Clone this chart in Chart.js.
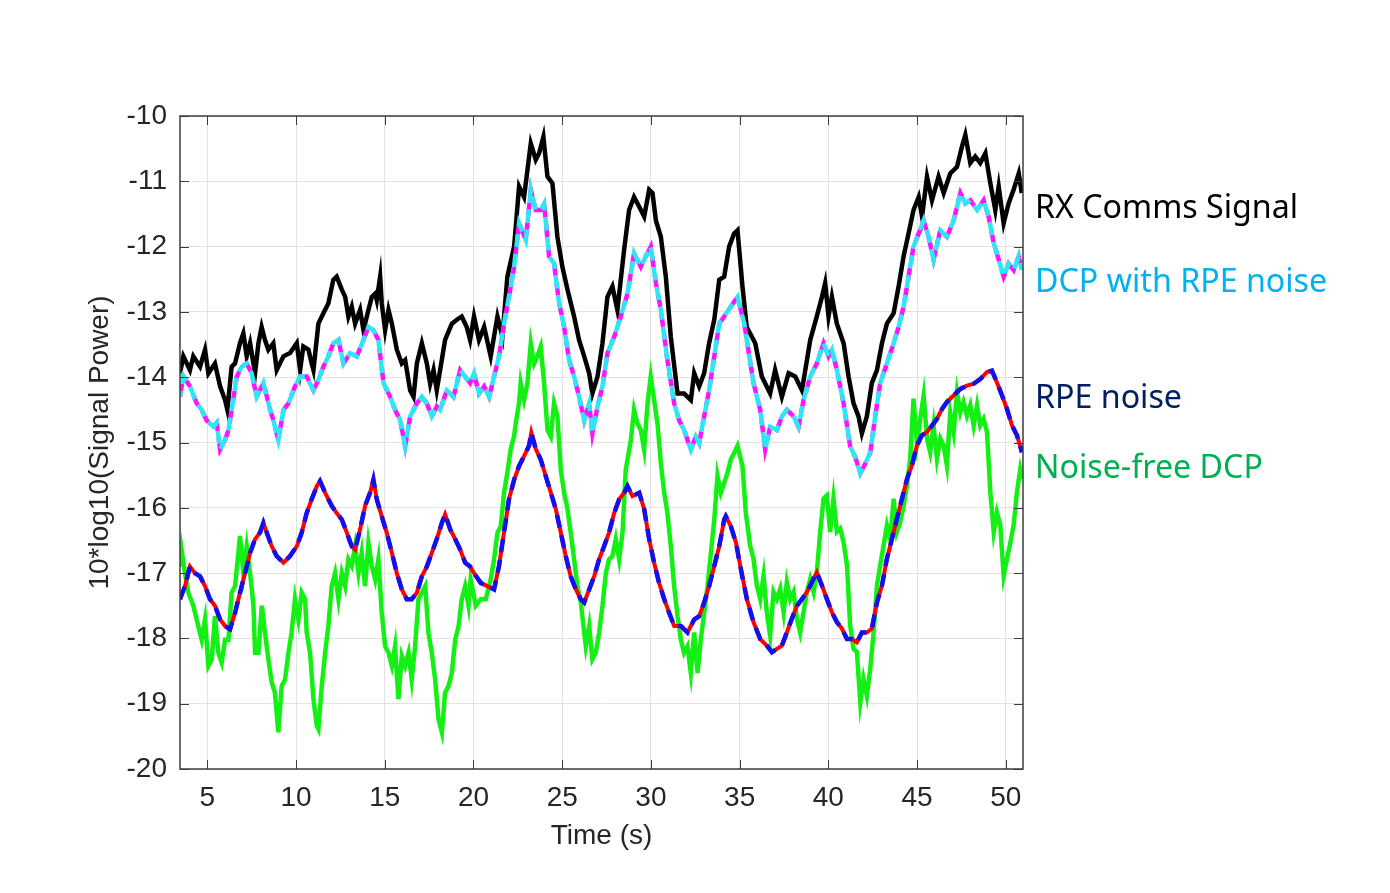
<!DOCTYPE html>
<html>
<head>
<meta charset="utf-8">
<script src="https://cdn.jsdelivr.net/npm/chart.js@4.4.1/dist/chart.umd.min.js"></script>
<style>
  html, body { margin: 0; padding: 0; background: #fff; }
  canvas { display: block; }
</style>
</head>
<body>
<canvas id="powerChart" width="1390" height="893"></canvas>
<script>
/* =========================
   DATA
========================= */
const rxTime = [3.46,3.65,4.02,4.21,4.59,4.87,5.06,5.43,5.72,6.0,6.13,6.37,6.56,6.84,7.03,7.22,7.41,7.69,7.88,8.06,8.25,8.44,8.72,8.91,9.29,9.66,10.04,10.23,10.41,10.70,10.88,10.98,11.26,11.54,11.82,12.1,12.29,12.58,12.77,12.95,13.14,13.33,13.61,13.8,14.08,14.27,14.46,14.55,14.74,14.83,15.02,15.21,15.40,15.68,15.96,16.15,16.43,16.62,16.81,17.09,17.37,17.56,17.75,17.93,18.12,18.40,18.78,19.06,19.34,19.62,19.81,20.03,20.31,20.6,20.97,21.35,21.63,21.91,22.29,22.57,22.85,23.23,23.51,23.70,23.94,24.17,24.45,24.73,25.01,25.3,25.67,25.95,26.24,26.52,26.7,26.99,27.27,27.55,27.83,28.11,28.49,28.77,29.05,29.34,29.62,29.9,30.09,30.28,30.56,30.84,31.12,31.5,31.87,32.25,32.44,32.72,33.0,33.28,33.57,33.85,34.13,34.41,34.69,34.88,35.16,35.4,35.88,36.25,36.72,37.0,37.38,37.76,38.13,38.51,38.7,38.98,39.35,39.64,39.82,40.01,40.2,40.48,40.86,41.14,41.42,41.7,41.89,42.17,42.45,42.74,43.02,43.3,43.68,43.96,44.24,44.52,44.8,45.09,45.28,45.56,45.84,46.21,46.5,46.87,47.25,47.53,47.72,48.0,48.28,48.56,48.85,49.13,49.41,49.6,49.88,50.16,50.44,50.73,50.9];
const rxPower = [-13.94,-13.68,-13.89,-13.68,-13.84,-13.58,-13.94,-13.79,-14.14,-14.35,-14.5,-13.84,-13.79,-13.48,-13.33,-13.68,-13.48,-13.94,-13.48,-13.23,-13.43,-13.58,-13.48,-13.89,-13.68,-13.63,-13.48,-13.89,-13.53,-13.58,-13.79,-13.89,-13.18,-13.02,-12.87,-12.51,-12.46,-12.66,-12.77,-13.07,-12.92,-13.18,-12.97,-13.28,-12.97,-12.77,-12.72,-12.82,-12.46,-12.87,-13.28,-12.97,-13.18,-13.58,-13.79,-13.74,-14.2,-14.3,-13.79,-13.48,-13.79,-14.1,-13.89,-14.2,-13.89,-13.43,-13.18,-13.12,-13.07,-13.23,-13.43,-13.07,-13.43,-13.23,-13.68,-13.07,-13.38,-12.46,-12.0,-11.08,-11.24,-10.42,-10.67,-10.57,-10.32,-10.93,-11.03,-11.85,-12.31,-12.66,-13.07,-13.43,-13.68,-13.94,-14.25,-13.99,-13.48,-12.77,-12.61,-12.97,-12.05,-11.44,-11.24,-11.39,-11.54,-11.13,-11.18,-11.6,-11.85,-12.46,-13.38,-14.25,-14.25,-14.35,-13.94,-14.14,-13.94,-13.48,-13.12,-12.51,-12.46,-12.0,-11.8,-11.75,-12.61,-13.23,-13.48,-13.99,-14.25,-13.89,-14.3,-13.94,-13.99,-14.2,-13.89,-13.43,-13.07,-12.77,-12.56,-13.07,-12.77,-13.18,-13.48,-13.99,-14.4,-14.6,-14.86,-14.6,-14.09,-13.89,-13.48,-13.18,-13.02,-12.61,-12.15,-11.8,-11.44,-11.24,-11.54,-10.93,-11.29,-10.93,-11.18,-10.88,-10.78,-10.47,-10.29,-10.72,-10.62,-10.72,-10.57,-11.03,-11.44,-11.08,-11.64,-11.34,-11.13,-10.88,-11.18];

const dcpTime = [3.46,3.65,4.02,4.4,4.68,4.96,5.34,5.53,5.72,6.0,6.19,6.37,6.66,6.94,7.22,7.5,7.78,8.16,8.54,8.72,9.0,9.29,9.57,9.94,10.23,10.6,10.98,11.26,11.54,11.82,12.1,12.39,12.67,13.05,13.42,13.8,14.08,14.36,14.64,14.93,15.3,15.58,15.87,16.15,16.43,16.81,17.09,17.37,17.65,17.93,18.12,18.5,18.87,19.25,19.53,19.81,20.03,20.31,20.6,20.88,21.16,21.44,21.72,22.0,22.29,22.57,22.95,23.23,23.51,23.79,23.98,24.26,24.54,24.83,25.11,25.39,25.67,25.95,26.24,26.52,26.7,26.99,27.27,27.55,27.93,28.3,28.68,29.05,29.43,29.71,29.99,30.28,30.56,30.93,31.31,31.59,31.87,32.25,32.53,32.72,33.0,33.28,33.57,33.85,34.13,34.5,34.88,35.26,35.5,35.78,36.16,36.44,36.72,37.1,37.38,37.66,38.04,38.32,38.6,38.98,39.35,39.73,40.01,40.2,40.48,40.86,41.23,41.51,41.8,42.08,42.36,42.64,42.92,43.3,43.68,43.96,44.24,44.52,44.8,45.09,45.37,45.65,45.93,46.31,46.68,47.06,47.44,47.72,48.0,48.38,48.75,49.03,49.32,49.6,49.88,50.16,50.44,50.73,50.9];
const dcpPower = [-14.3,-13.99,-14.14,-14.4,-14.5,-14.66,-14.76,-14.7,-15.11,-14.96,-14.81,-14.5,-13.99,-13.84,-13.79,-13.94,-14.3,-14.09,-14.5,-14.66,-14.96,-14.5,-14.4,-14.14,-13.99,-13.99,-14.2,-14.04,-13.84,-13.68,-13.48,-13.43,-13.79,-13.63,-13.68,-13.43,-13.23,-13.28,-13.43,-14.09,-14.3,-14.5,-14.66,-15.06,-14.6,-14.4,-14.3,-14.4,-14.6,-14.45,-14.5,-14.2,-14.3,-13.89,-13.99,-14.09,-13.94,-14.25,-14.14,-14.3,-13.99,-13.68,-13.18,-12.77,-12.31,-11.64,-11.9,-11.13,-11.44,-11.44,-11.34,-12.15,-12.26,-12.87,-13.23,-13.74,-13.99,-14.3,-14.66,-14.4,-14.86,-14.45,-14.14,-13.63,-13.38,-13.07,-12.72,-12.1,-12.31,-12.15,-12.0,-12.56,-12.97,-13.74,-14.4,-14.66,-14.81,-15.11,-14.91,-15.01,-14.6,-14.2,-13.68,-13.18,-13.07,-12.92,-12.77,-13.18,-13.6,-14.09,-14.5,-15.11,-14.76,-14.81,-14.6,-14.5,-14.6,-14.76,-14.35,-13.99,-13.79,-13.48,-13.68,-13.58,-13.89,-14.4,-15.06,-15.22,-15.47,-15.32,-15.16,-14.6,-14.09,-13.79,-13.48,-13.23,-12.92,-12.46,-12.0,-11.8,-11.6,-11.85,-12.2,-11.75,-11.85,-11.6,-11.18,-11.34,-11.29,-11.44,-11.29,-11.54,-11.95,-12.2,-12.46,-12.26,-12.36,-12.15,-12.36];

const rpeTime = [3.46,3.74,4.02,4.3,4.59,4.87,5.15,5.43,5.72,6.0,6.28,6.56,6.84,7.13,7.41,7.69,7.97,8.16,8.35,8.63,8.91,9.29,9.66,10.04,10.32,10.6,10.88,11.17,11.35,11.64,12.01,12.29,12.58,12.86,13.14,13.33,13.61,13.89,14.17,14.36,14.55,14.83,15.11,15.4,15.68,15.96,16.24,16.52,16.81,17.09,17.37,17.65,17.93,18.22,18.4,18.69,18.97,19.25,19.53,19.81,20.03,20.41,20.78,21.16,21.44,21.72,22.0,22.29,22.57,22.85,23.13,23.26,23.51,23.79,24.07,24.36,24.64,24.92,25.2,25.48,25.77,26.05,26.24,26.52,26.8,27.08,27.36,27.64,27.93,28.21,28.49,28.68,28.96,29.34,29.62,29.9,30.18,30.46,30.75,31.03,31.31,31.69,32.06,32.44,32.72,33.0,33.28,33.57,33.85,34.13,34.22,34.5,34.79,35.07,35.41,35.78,36.16,36.53,36.82,37.1,37.38,37.66,37.94,38.23,38.51,38.79,39.07,39.35,39.64,39.92,40.2,40.48,40.76,41.05,41.33,41.61,41.89,42.17,42.45,42.74,43.02,43.3,43.58,43.86,44.15,44.43,44.71,44.99,45.27,45.56,45.84,46.12,46.4,46.68,47.06,47.44,47.81,48.19,48.56,48.94,49.22,49.5,49.79,50.07,50.35,50.63,50.91];
const rpePower = [-17.4,-17.2,-16.9,-17.0,-17.05,-17.2,-17.4,-17.5,-17.71,-17.81,-17.86,-17.61,-17.3,-17.0,-16.69,-16.48,-16.38,-16.23,-16.38,-16.59,-16.74,-16.84,-16.74,-16.59,-16.38,-16.08,-15.87,-15.67,-15.59,-15.77,-15.97,-16.08,-16.18,-16.38,-16.59,-16.64,-16.33,-15.97,-15.77,-15.57,-15.87,-16.13,-16.38,-16.69,-17.0,-17.25,-17.4,-17.4,-17.3,-17.05,-16.9,-16.69,-16.48,-16.23,-16.1,-16.33,-16.48,-16.64,-16.84,-16.9,-17.0,-17.15,-17.2,-17.25,-16.89,-16.38,-15.87,-15.57,-15.36,-15.21,-15.05,-14.85,-15.1,-15.26,-15.51,-15.77,-16.02,-16.38,-16.74,-17.05,-17.25,-17.4,-17.45,-17.25,-17.05,-16.79,-16.59,-16.38,-16.08,-15.87,-15.77,-15.67,-15.82,-15.77,-16.02,-16.48,-16.84,-17.15,-17.4,-17.61,-17.81,-17.81,-17.91,-17.71,-17.66,-17.45,-17.2,-16.89,-16.59,-16.18,-16.13,-16.28,-16.53,-16.94,-17.4,-17.75,-18.01,-18.11,-18.21,-18.16,-18.11,-17.91,-17.7,-17.5,-17.4,-17.29,-17.14,-16.99,-17.19,-17.4,-17.6,-17.75,-17.85,-18.01,-18.01,-18.06,-17.91,-17.91,-17.85,-17.45,-17.19,-16.78,-16.48,-16.17,-15.86,-15.56,-15.35,-15.05,-14.89,-14.84,-14.74,-14.64,-14.49,-14.38,-14.28,-14.18,-14.13,-14.1,-14.03,-13.92,-13.9,-14.08,-14.28,-14.49,-14.74,-14.89,-15.15];

const nfTime = [3.46,3.55,3.74,3.93,4.21,4.49,4.68,4.87,5.06,5.25,5.43,5.62,5.81,6.0,6.19,6.37,6.56,6.75,6.84,7.03,7.22,7.41,7.6,7.69,7.88,8.07,8.25,8.44,8.63,8.81,9.0,9.19,9.38,9.57,9.75,9.94,10.13,10.32,10.51,10.6,10.79,10.98,11.17,11.26,11.45,11.64,11.82,12.01,12.2,12.39,12.58,12.77,12.95,13.14,13.33,13.52,13.7,13.89,14.08,14.27,14.46,14.64,14.83,15.02,15.21,15.4,15.58,15.77,15.96,16.15,16.34,16.52,16.71,16.9,17.09,17.28,17.46,17.65,17.84,18.03,18.22,18.4,18.59,18.78,18.97,19.16,19.34,19.53,19.72,19.84,20.13,20.41,20.69,20.97,21.16,21.35,21.54,21.72,21.91,22.1,22.29,22.38,22.57,22.66,22.85,23.04,23.23,23.42,23.6,23.79,23.98,24.17,24.36,24.54,24.73,24.92,25.11,25.3,25.48,25.67,25.86,26.05,26.24,26.33,26.52,26.7,26.89,27.08,27.27,27.46,27.64,27.83,28.02,28.21,28.4,28.58,28.87,29.05,29.24,29.43,29.62,29.81,29.99,30.18,30.37,30.56,30.75,30.93,31.12,31.31,31.5,31.69,31.87,32.06,32.25,32.44,32.63,32.81,33.0,33.19,33.38,33.57,33.75,33.94,34.13,34.32,34.5,34.69,34.88,35.16,35.35,35.59,35.78,35.97,36.16,36.35,36.53,36.72,36.91,37.1,37.29,37.48,37.66,37.85,38.04,38.23,38.41,38.6,38.79,38.98,39.17,39.35,39.54,39.73,39.92,40.1,40.29,40.48,40.67,40.86,41.05,41.23,41.42,41.61,41.8,41.98,42.17,42.36,42.55,42.74,42.92,43.11,43.3,43.49,43.68,43.86,44.05,44.24,44.43,44.61,44.8,44.99,45.18,45.37,45.56,45.74,45.93,46.12,46.31,46.5,46.68,46.87,47.06,47.25,47.44,47.62,47.81,48.0,48.19,48.38,48.56,48.75,48.94,49.13,49.32,49.5,49.69,49.88,50.07,50.26,50.44,50.63,50.82,50.97];
const nfPower = [-16.9,-16.64,-17.0,-17.3,-17.5,-17.81,-18.02,-17.71,-18.42,-18.32,-17.66,-18.22,-18.37,-18.02,-18.02,-17.3,-17.2,-16.69,-16.43,-17.0,-16.59,-17.0,-17.5,-18.22,-18.22,-17.5,-17.91,-18.32,-18.68,-18.83,-19.44,-18.73,-18.63,-18.22,-17.91,-17.4,-17.71,-17.3,-17.4,-17.91,-18.22,-18.93,-19.34,-19.39,-18.73,-18.22,-17.81,-17.2,-17.0,-17.4,-17.0,-17.2,-16.79,-16.89,-16.59,-17.0,-16.69,-17.2,-16.54,-16.89,-17.1,-16.79,-17.61,-18.12,-18.22,-18.42,-18.12,-18.93,-18.27,-18.42,-18.22,-18.63,-18.12,-17.4,-17.3,-17.2,-17.91,-18.22,-18.63,-19.24,-19.44,-18.83,-18.73,-18.53,-18.02,-17.81,-17.4,-17.2,-17.5,-17.1,-17.5,-17.4,-17.4,-17.1,-16.79,-16.38,-16.28,-15.77,-15.46,-15.1,-14.9,-14.71,-14.39,-14.09,-14.35,-14.09,-13.48,-13.79,-13.68,-13.53,-14.09,-14.81,-14.91,-14.4,-14.6,-15.42,-15.77,-16.02,-16.38,-16.79,-17.2,-17.45,-17.91,-18.12,-17.81,-18.32,-18.22,-17.91,-17.5,-17.0,-16.79,-16.74,-16.48,-16.79,-16.38,-15.42,-14.96,-14.5,-14.71,-14.81,-15.11,-14.4,-13.99,-14.35,-14.71,-15.32,-15.77,-16.08,-16.59,-17.2,-17.66,-18.02,-18.22,-18.12,-18.53,-17.91,-18.53,-18.02,-17.61,-17.2,-16.69,-16.18,-15.51,-15.77,-15.62,-15.46,-15.26,-15.16,-15.05,-15.36,-16.08,-16.58,-16.78,-17.19,-17.4,-17.04,-17.6,-17.96,-17.29,-17.4,-17.24,-17.6,-17.14,-17.4,-17.29,-17.7,-17.91,-17.6,-17.29,-17.09,-17.29,-16.99,-16.37,-15.86,-15.81,-16.37,-15.86,-16.37,-16.32,-16.53,-16.88,-17.8,-18.16,-18.21,-18.98,-18.62,-18.88,-18.47,-17.91,-17.19,-16.88,-16.58,-16.27,-16.48,-15.86,-16.37,-16.22,-15.97,-15.66,-15.25,-14.33,-15.0,-14.64,-14.28,-14.94,-15.15,-14.74,-15.25,-14.94,-15.05,-15.35,-14.54,-14.84,-14.23,-14.54,-14.38,-14.59,-14.43,-14.74,-14.43,-14.74,-14.64,-14.84,-15.76,-16.37,-16.07,-16.27,-17.04,-16.78,-16.53,-16.27,-15.76,-15.4,-15.56];

const xTicks = [5, 10, 15, 20, 25, 30, 35, 40, 45, 50];
const yTicks = [-20, -19, -18, -17, -16, -15, -14, -13, -12, -11, -10];

const sideLabels = ["RX Comms Signal", "DCP with RPE noise", "RPE noise", "Noise-free DCP"];
const sideColors = ["#000000", "#00b0f0", "#002060", "#00b050"];
const sideBaselines = [218, 292, 408, 478];

/* =========================
   HELPERS
========================= */
const AXIS_FONT = "'Liberation Sans', Arial, sans-serif";
const toPoints = (xs, ys) => xs.map((x, i) => ({ x, y: ys[i] }));

function makeLine(data, color, dash, width) {
  return {
    data,
    borderColor: color,
    borderWidth: width,
    borderDash: dash,
    pointRadius: 0,
    tension: 0,
    fill: false
  };
}

/* =========================
   PLUGINS
========================= */
// MATLAB-like box with inward ticks on all four sides
const boxPlugin = {
  id: "box",
  afterDatasetsDraw(chart) {
    const { ctx, chartArea: a, scales } = chart;
    ctx.save();
    ctx.strokeStyle = "#3c3c3c";
    ctx.lineWidth = 1;
    const len = 9;
    ctx.beginPath();
    xTicks.forEach(v => {
      const px = Math.round(scales.x.getPixelForValue(v)) + 0.5;
      ctx.moveTo(px, a.bottom); ctx.lineTo(px, a.bottom - len);
      ctx.moveTo(px, a.top); ctx.lineTo(px, a.top + len);
    });
    yTicks.forEach(v => {
      const py = Math.round(scales.y.getPixelForValue(v)) + 0.5;
      ctx.moveTo(a.left, py); ctx.lineTo(a.left + len, py);
      ctx.moveTo(a.right, py); ctx.lineTo(a.right - len, py);
    });
    ctx.stroke();
    ctx.lineWidth = 1.5;
    ctx.strokeRect(a.left, a.top, a.right - a.left, a.bottom - a.top);
    ctx.restore();
  }
};

// coloured series names to the right of the axes
const sideLabelPlugin = {
  id: "sideLabels",
  afterDraw(chart) {
    const { ctx, chartArea: a } = chart;
    ctx.save();
    ctx.font = "100px 'Noto Sans'";
    const size = 100 * 292 / ctx.measureText(sideLabels[1]).width;
    ctx.font = `${size.toFixed(1)}px 'Noto Sans'`;
    ctx.textAlign = "left";
    ctx.textBaseline = "alphabetic";
    sideLabels.forEach((txt, i) => {
      ctx.fillStyle = sideColors[i];
      ctx.fillText(txt, a.right + 12, sideBaselines[i]);
    });
    ctx.restore();
  }
};

/* =========================
   CHART
========================= */
const rpePts = toPoints(rpeTime, rpePower);
const dcpPts = toPoints(dcpTime, dcpPower);

new Chart(document.getElementById("powerChart"), {
  type: "line",
  data: {
    datasets: [
      makeLine(rpePts, "#1010f0", [13, 8], 4.5),
      makeLine(rpePts, "#ff0000", [], 4),
      makeLine(toPoints(nfTime, nfPower), "#14f014", [], 4.5),
      Object.assign(makeLine(dcpPts, "#2ee6f2", [13, 7], 4.5), { borderDashOffset: 7 }),
      makeLine(dcpPts, "#ff14ff", [13, 7], 4.5),
      makeLine(toPoints(rxTime, rxPower), "#000000", [], 4.5)
    ]
  },
  options: {
    responsive: false,
    animation: false,
    devicePixelRatio: 1,
    layout: { padding: { left: 0, top: 116, right: 367, bottom: 0 } },
    plugins: { legend: { display: false }, tooltip: { enabled: false } },
    scales: {
      x: {
        type: "linear",
        min: 3.46,
        max: 50.97,
        afterFit: s => { s.height = 124; },
        afterBuildTicks: s => { s.ticks = xTicks.map(v => ({ value: v })); },
        grid: { color: "#e2e2e2", drawTicks: false },
        border: { display: false },
        ticks: { color: "#262626", padding: 12, font: { family: AXIS_FONT, size: 28 } },
        title: {
          display: true,
          text: "Time (s)",
          color: "#262626",
          padding: { top: 0, bottom: 40 },
          font: { family: AXIS_FONT, size: 28 }
        }
      },
      y: {
        type: "linear",
        min: -20,
        max: -10,
        afterFit: s => { s.width = 180; },
        afterBuildTicks: s => { s.ticks = yTicks.map(v => ({ value: v })); },
        grid: { color: "#e2e2e2", drawTicks: false },
        border: { display: false },
        ticks: { color: "#262626", padding: 13, font: { family: AXIS_FONT, size: 28 } },
        title: {
          display: true,
          text: "10*log10(Signal Power)",
          color: "#262626",
          padding: { top: 83, bottom: 0 },
          font: { family: AXIS_FONT, size: 28 }
        }
      }
    }
  },
  plugins: [boxPlugin, sideLabelPlugin]
});
</script>
</body>
</html>
